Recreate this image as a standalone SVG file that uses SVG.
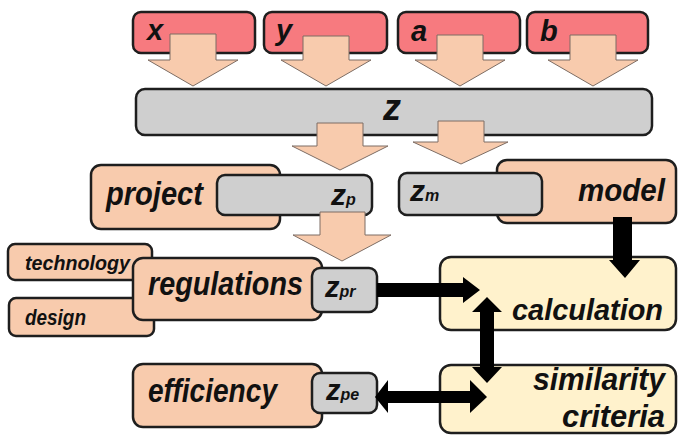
<svg xmlns="http://www.w3.org/2000/svg" width="679" height="436" viewBox="0 0 679 436">
  <style>
    .box { stroke: #1e1e1e; stroke-width: 2.5; }
    .red { fill: #f77a7f; }
    .grey { fill: #cfcfcf; }
    .peach { fill: #f8cbad; }
    .cream { fill: #fff2cc; }
    .lbl { font-family: "Liberation Sans", Arial, sans-serif; font-weight: bold; font-style: italic; fill: #111; }
    .sub { font-family: "Liberation Sans", Arial, sans-serif; font-weight: bold; font-style: italic; fill: #111; font-size: 16px; }
    .block { fill: #f8cbad; stroke: #7d6d64; stroke-width: 1; }
    .solid { fill: #000; }
  </style>

  <!-- input parameters -->
  <g id="node-x"><rect class="box red" x="133" y="12" width="122" height="41" rx="8"/><text class="lbl" x="147" y="40" font-size="29">x</text></g>
  <g id="node-y"><rect class="box red" x="264" y="12" width="123" height="41" rx="8"/><text class="lbl" x="276" y="40" font-size="29">y</text></g>
  <g id="node-a"><rect class="box red" x="398" y="12" width="122" height="41" rx="8"/><text class="lbl" x="411" y="41" font-size="29">a</text></g>
  <g id="node-b"><rect class="box red" x="527" y="12" width="121" height="41" rx="8"/><text class="lbl" x="540" y="41" font-size="29">b</text></g>

  <!-- combined vector -->
  <g id="node-z"><rect class="box grey" x="136" y="89" width="516" height="46" rx="9"/><text class="lbl" x="383" y="120" font-size="36">z</text></g>

  <!-- project branch -->
  <g id="node-project"><rect class="box peach" x="91" y="165" width="189" height="64" rx="10"/><text class="lbl" x="106" y="205" font-size="33" textLength="97" lengthAdjust="spacingAndGlyphs">project</text></g>
  <g id="node-zp"><rect class="box grey" x="217" y="175" width="155" height="40" rx="8"/><text class="lbl" x="331" y="205" font-size="30">z<tspan class="sub">p</tspan></text></g>

  <!-- model branch -->
  <g id="node-model"><rect class="box peach" x="497" y="160" width="179" height="63" rx="10"/><text class="lbl" x="578" y="201" font-size="31" textLength="87" lengthAdjust="spacingAndGlyphs">model</text></g>
  <g id="node-zm"><rect class="box grey" x="399" y="173" width="143" height="42" rx="8"/><text class="lbl" x="410" y="201" font-size="30">z<tspan class="sub" font-style="normal">m</tspan></text></g>

  <!-- regulation inputs -->
  <g id="node-technology"><rect class="box peach" x="8" y="244" width="144" height="36" rx="7"/><text class="lbl" x="25" y="270" font-size="21" textLength="105" lengthAdjust="spacingAndGlyphs">technology</text></g>
  <g id="node-design"><rect class="box peach" x="9" y="298" width="145" height="38" rx="7"/><text class="lbl" x="25" y="325" font-size="22" textLength="61" lengthAdjust="spacingAndGlyphs">design</text></g>
  <g id="node-regulations"><rect class="box peach" x="133" y="258" width="189" height="62" rx="10"/><text class="lbl" x="148" y="295" font-size="33" textLength="155" lengthAdjust="spacingAndGlyphs">regulations</text></g>
  <g id="node-zpr"><rect class="box grey" x="312" y="268" width="65" height="44" rx="8"/><text class="lbl" x="325" y="297" font-size="29">z<tspan class="sub">pr</tspan></text></g>

  <!-- efficiency -->
  <g id="node-efficiency"><rect class="box peach" x="133" y="364" width="189" height="63" rx="10"/><text class="lbl" x="148" y="402" font-size="33" textLength="129" lengthAdjust="spacingAndGlyphs">efficiency</text></g>
  <g id="node-zpe"><rect class="box grey" x="312" y="373" width="65" height="40" rx="8"/><text class="lbl" x="326" y="400" font-size="29">z<tspan class="sub">pe</tspan></text></g>

  <!-- evaluation -->
  <g id="node-calculation"><rect class="box cream" x="440" y="257" width="236" height="73" rx="11"/><text class="lbl" x="512" y="320" font-size="30" textLength="151" lengthAdjust="spacingAndGlyphs">calculation</text></g>
  <g id="node-similarity"><rect class="box cream" x="440" y="365" width="236" height="68" rx="11"/><text class="lbl" x="533" y="390" font-size="31" textLength="132" lengthAdjust="spacingAndGlyphs">similarity</text><text class="lbl" x="562" y="427" font-size="31" textLength="103" lengthAdjust="spacingAndGlyphs">criteria</text></g>

  <g id="connectors">
    <!-- block arrows: inputs into z -->
    <path class="block" d="M170,34 H216 V60 H238 L193,86 L148,60 H170 Z"/>
    <path class="block" d="M303,36 H349 V60 H371 L326,86 L281,60 H303 Z"/>
    <path class="block" d="M437,35 H483 V60 H505 L460,86 L415,60 H437 Z"/>
    <path class="block" d="M570,35 H616 V60 H638 L593,86 L548,60 H570 Z"/>
    <!-- block arrows: z into zp and zm -->
    <path class="block" d="M317,123 H363 V146 H388 L340,170 L292,146 H317 Z"/>
    <path class="block" d="M438,121 H484 V142 H508 L461,164 L413,142 H438 Z"/>
    <!-- block arrow: zp into regulations -->
    <path class="block" d="M320,212 H365 V235 H391 L342,261 L293,235 H320 Z"/>

    <!-- solid arrows -->
    <path class="solid" d="M613,217 H632 V260 H640 L625,278 L609,260 H613 Z"/>
    <path class="solid" d="M377,283 H463 V277 L480,290 L463,303 V297 H377 Z"/>
    <path class="solid" d="M487,297 L502,312 H494 V367 H502 L487,383 L472,367 H480 V312 H472 Z"/>
    <path class="solid" d="M375,397 L388,380 V391 H470 V380 L487,397 L470,413 V403 H388 V413 Z"/>
  </g>
</svg>
